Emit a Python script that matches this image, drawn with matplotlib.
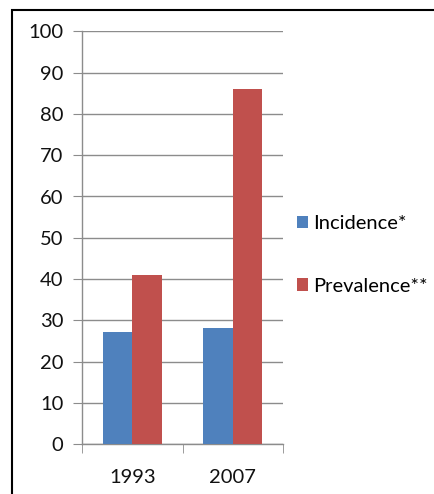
import matplotlib.pyplot as plt
from matplotlib.patches import Rectangle
import numpy as np

plt.rcParams["font.family"] = ["Lato", "DejaVu Sans"]

years = ["1993", "2007"]
incidence = [27.1, 28.2]
prevalence = [41.0, 86.0]
series_names = ["Incidence*", "Prevalence**"]
colors = ["#4F81BD", "#C0504D"]

fig = plt.figure(figsize=(4.34, 4.94), dpi=100)
ax = fig.add_axes([82 / 434, 1 - 444 / 494, 201 / 434, (444 - 31.5) / 494])

# outer frame around the whole chart
fig.patches.append(Rectangle((12 / 434, -0.1), 1.2, 1.1 - 10 / 494,
                             transform=fig.transFigure, fill=False,
                             edgecolor="black", linewidth=1.5))

x = np.arange(len(years)) + 0.5
w = 0.293
ax.bar(x - w / 2, incidence, w, color=colors[0], label=series_names[0], zorder=3)
ax.bar(x + w / 2, prevalence, w, color=colors[1], label=series_names[1], zorder=3)

ax.set_xlim(0, 2)
ax.set_ylim(0, 100)
ax.set_yticks(np.arange(0, 101, 10))
ax.set_xticks(x)
ax.set_xticklabels(years)
ax.set_xticks([0, 1, 2], minor=True)
ax.tick_params(axis="x", which="major", length=0, pad=18, labelsize=14.5, labelcolor="#111111")
ax.tick_params(axis="x", which="minor", length=6.5, direction="out", color="#8c8c8c")
ax.tick_params(axis="y", length=6.5, direction="out", color="#8c8c8c", pad=7,
               labelsize=14.5, labelcolor="#111111")
ax.grid(axis="y", color="#8c8c8c", linewidth=1.0, zorder=0)

for side in ["top", "right"]:
    ax.spines[side].set_visible(False)
for side in ["left", "bottom"]:
    ax.spines[side].set_color("#8c8c8c")
    ax.spines[side].set_linewidth(1.0)

fig.legend(loc="center left", bbox_to_anchor=(287 / 434, 1 - 255 / 494),
           frameon=False, fontsize=14.5, handlelength=0.55, handleheight=0.55,
           handletextpad=0.25, labelspacing=2.25, borderpad=0)

fig.savefig("out.png", dpi=100)
